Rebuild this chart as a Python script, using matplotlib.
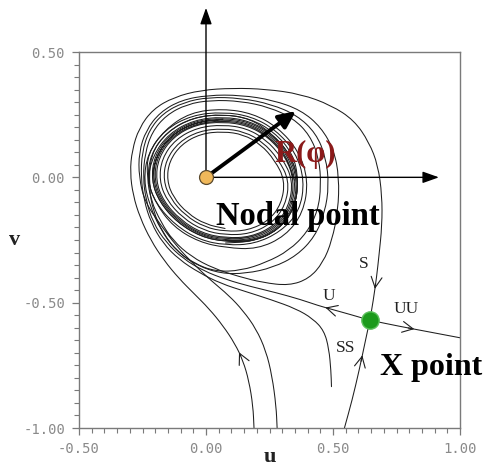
import numpy as np
import matplotlib
matplotlib.use("Agg")
import matplotlib.pyplot as plt
from matplotlib.path import Path
from matplotlib.patches import PathPatch
from matplotlib.ticker import MultipleLocator

# ---------------- data (phase-plane coordinates u, v) ----------------
x_ticks = [-0.5, 0.0, 0.5, 1.0]
x_tick_labels = ["-0.50", "0.00", "0.50", "1.00"]
y_ticks = [-1.0, -0.5, 0.0, 0.5]
y_tick_labels = ["-1.00", "-0.50", "0.00", "0.50"]

nodal_point = (0.0, 0.0)
x_point = (0.645, -0.570)
radius_tip = (0.354, 0.264)
u_axis_tip = (0.917, 0.0)
v_axis_tip = (0.0, 0.676)

# trajectory entering from the bottom, wrapping outside and becoming branch S
traj_outer = [
    (0.189, -1.000), (0.185, -0.912), (0.169, -0.812), (0.146, -0.732),
    (0.114, -0.664), (0.067, -0.592), (0.012, -0.524), (-0.047, -0.464),
    (-0.106, -0.404), (-0.165, -0.332), (-0.217, -0.252), (-0.260, -0.160),
    (-0.287, -0.072), (-0.299, 0.020), (-0.291, 0.108), (-0.264, 0.196),
    (-0.209, 0.272), (-0.126, 0.320), (-0.020, 0.348), (0.106, 0.356),
    (0.236, 0.352), (0.374, 0.332), (0.492, 0.288), (0.583, 0.228),
    (0.642, 0.140), (0.677, 0.048), (0.693, -0.072), (0.693, -0.192),
    (0.681, -0.312), (0.672, -0.395), (0.658, -0.495), (0.645, -0.570),
]

# second trajectory from the bottom: outer pass, then along U and into the cycle
traj_second = [
    (0.280, -1.000), (0.276, -0.912), (0.260, -0.792), (0.236, -0.692),
    (0.197, -0.604), (0.146, -0.532), (0.091, -0.472), (0.020, -0.412),
    (-0.051, -0.344), (-0.118, -0.272), (-0.177, -0.192), (-0.240, -0.100),
    (-0.264, 0.000), (-0.264, 0.100), (-0.236, 0.188), (-0.181, 0.260),
    (-0.098, 0.308), (0.008, 0.328), (0.138, 0.328), (0.264, 0.308),
    (0.374, 0.268), (0.453, 0.200), (0.504, 0.108), (0.524, 0.000),
    (0.520, -0.132), (0.496, -0.252), (0.461, -0.340), (0.406, -0.404),
    (0.327, -0.432), (0.224, -0.420), (0.130, -0.396), (0.031, -0.364),
    (-0.059, -0.316), (-0.130, -0.252), (-0.177, -0.180), (-0.217, -0.092),
    (-0.232, 0.000), (-0.230, 0.094), (-0.163, 0.190), (-0.056, 0.248),
    (0.067, 0.261), (0.179, 0.243), (0.274, 0.190), (0.353, 0.100),
    (0.388, -0.012), (0.369, -0.135), (0.294, -0.217), (0.191, -0.266),
    (0.078, -0.271), (-0.025, -0.250), (-0.122, -0.190), (-0.198, -0.104),
    (-0.231, -0.012), (-0.219, 0.091), (-0.154, 0.182), (-0.052, 0.239),
    (0.067, 0.252), (0.175, 0.234), (0.267, 0.182), (0.342, 0.096),
    (0.365, -0.012), (0.348, -0.126), (0.285, -0.210), (0.187, -0.256),
    (0.077, -0.257), (-0.020, -0.237), (-0.112, -0.181), (-0.183, -0.099),
    (-0.215, -0.012), (-0.204, 0.085), (-0.142, 0.172), (-0.045, 0.225),
    (0.067, 0.237), (0.169, 0.221), (0.256, 0.172), (0.327, 0.090),
    (0.360, -0.012), (0.343, -0.124), (0.281, -0.206), (0.185, -0.252),
    (0.077, -0.252),
]

# unstable branch U leaving the X point and winding onto the cycle
traj_unstable = [
    (0.645, -0.570), (0.571, -0.548), (0.500, -0.528), (0.440, -0.511),
    (0.374, -0.488), (0.276, -0.460), (0.177, -0.436), (0.079, -0.408),
    (-0.012, -0.372), (-0.091, -0.324), (-0.157, -0.260), (-0.209, -0.180),
    (-0.236, -0.092), (-0.248, 0.000), (-0.240, 0.096), (-0.213, 0.180),
    (-0.157, 0.248), (-0.075, 0.292), (0.020, 0.308), (0.138, 0.304),
    (0.248, 0.280), (0.343, 0.236), (0.409, 0.168), (0.445, 0.076),
    (0.453, -0.032), (0.441, -0.132), (0.398, -0.220), (0.327, -0.292),
    (0.236, -0.340), (0.138, -0.372), (0.039, -0.376), (-0.047, -0.344),
    (-0.122, -0.288), (-0.178, -0.210), (-0.222, -0.112), (-0.245, -0.012),
    (-0.230, 0.094), (-0.163, 0.190), (-0.062, 0.259), (0.067, 0.274),
    (0.184, 0.255), (0.284, 0.199), (0.365, 0.105), (0.403, -0.012),
    (0.383, -0.141), (0.313, -0.234), (0.202, -0.287), (0.078, -0.281),
    (-0.028, -0.258), (-0.129, -0.197), (-0.198, -0.104), (-0.231, -0.012),
    (-0.209, 0.087), (-0.146, 0.175), (-0.047, 0.229), (0.067, 0.242),
    (0.171, 0.225), (0.259, 0.175), (0.332, 0.092), (0.365, -0.012),
    (0.348, -0.126), (0.285, -0.210), (0.187, -0.256), (0.077, -0.257),
    (-0.020, -0.237), (-0.112, -0.181), (-0.183, -0.099), (-0.215, -0.012),
    (-0.198, 0.083), (-0.138, 0.168), (-0.043, 0.220), (0.067, 0.232),
    (0.167, 0.216), (0.252, 0.168), (0.322, 0.088), (0.354, -0.012),
    (0.337, -0.122), (0.277, -0.202), (0.182, -0.247), (0.077, -0.252),
    (-0.018, -0.232), (-0.108, -0.177), (-0.178, -0.097), (-0.209, -0.012),
    (-0.198, 0.083), (-0.138, 0.168), (-0.043, 0.220), (0.067, 0.232),
]

# trajectory rising just left of SS and turning along U
traj_lower = [
    (0.494, -0.835), (0.492, -0.772), (0.484, -0.684), (0.465, -0.612),
    (0.421, -0.564), (0.354, -0.524), (0.256, -0.488), (0.157, -0.456),
    (0.059, -0.424), (-0.028, -0.380), (-0.106, -0.328), (-0.169, -0.264),
    (-0.217, -0.180), (-0.244, -0.092), (-0.256, 0.000), (-0.252, 0.100),
    (-0.224, 0.188), (-0.169, 0.256), (-0.087, 0.300), (0.012, 0.320),
    (0.138, 0.316), (0.256, 0.292), (0.358, 0.248), (0.433, 0.176),
    (0.472, 0.080), (0.484, -0.032), (0.468, -0.140), (0.429, -0.236),
    (0.358, -0.312), (0.264, -0.360), (0.157, -0.384), (0.059, -0.384),
    (-0.035, -0.352), (-0.110, -0.300), (-0.169, -0.224), (-0.209, -0.132),
    (-0.224, -0.040), (-0.219, 0.091), (-0.154, 0.182), (-0.052, 0.239),
    (0.067, 0.252), (0.175, 0.234), (0.259, 0.175), (0.332, 0.092),
    (0.365, -0.012), (0.348, -0.126), (0.285, -0.210), (0.187, -0.256),
    (0.077, -0.262),
]

# trajectory spiralling outward from near the nodal point onto the cycle
traj_inner = [
    (0.075, -0.204), (-0.001, -0.188), (-0.073, -0.144), (-0.129, -0.080),
    (-0.154, -0.012), (-0.145, 0.064), (-0.097, 0.132), (-0.021, 0.174),
    (0.067, 0.183), (0.147, 0.171), (0.215, 0.132), (0.271, 0.068),
    (0.311, -0.012), (0.297, -0.106), (0.246, -0.174), (0.165, -0.212),
    (0.076, -0.216), (-0.005, -0.199), (-0.082, -0.152), (-0.141, -0.084),
    (-0.168, -0.012), (-0.158, 0.069), (-0.107, 0.141), (-0.027, 0.185),
    (0.067, 0.195), (0.152, 0.182), (0.224, 0.141), (0.284, 0.073),
    (0.328, -0.012), (0.313, -0.112), (0.258, -0.185), (0.172, -0.226),
    (0.076, -0.230), (-0.010, -0.212), (-0.092, -0.162), (-0.156, -0.089),
    (-0.184, -0.012), (-0.174, 0.075), (-0.120, 0.152), (-0.033, 0.199),
    (0.067, 0.210), (0.158, 0.196), (0.235, 0.152), (0.299, 0.079),
    (0.343, -0.012), (0.326, -0.118), (0.269, -0.194), (0.177, -0.238),
    (0.077, -0.242), (-0.015, -0.223), (-0.101, -0.170), (-0.168, -0.094),
    (-0.198, -0.012), (-0.187, 0.079), (-0.130, 0.161), (-0.039, 0.211),
    (0.067, 0.222), (0.163, 0.207), (0.245, 0.161), (0.312, 0.084),
    (0.348, -0.012), (0.332, -0.120), (0.273, -0.198), (0.180, -0.242),
    (0.077, -0.247), (-0.017, -0.228), (-0.105, -0.174), (-0.173, -0.096),
    (-0.204, -0.012), (-0.193, 0.081), (-0.134, 0.164), (-0.041, 0.215),
    (0.067, 0.227), (0.165, 0.212), (0.248, 0.164), (0.317, 0.086),
    (0.348, -0.012),
]

# stable branch SS (from below into the X point) and unstable branch UU
traj_ss = [(0.545, -1.000), (0.575, -0.890), (0.603, -0.770),
           (0.628, -0.650), (0.645, -0.570)]
traj_uu = [(0.645, -0.570), (0.760, -0.594), (0.880, -0.617), (1.000, -0.640)]

# flow-direction chevrons: (trajectory, segment index)
flow_arrows = [("outer", 3), ("outer", 29), ("unstable", 2), ("ss", 2), ("uu", 1)]

branch_labels = ["S", "U", "UU", "SS"]
branch_label_pos = [(0.622, -0.344), (0.484, -0.472), (0.787, -0.524), (0.551, -0.680)]

# ---------------- styles ----------------
LINE = "#1e1e1e"
SPINE = "#7a7a7a"
TICKTEXT = "#8a8a8a"
SERIF = ["Liberation Serif", "DejaVu Serif"]

fig = plt.figure(figsize=(4.87, 4.66), dpi=100)
ax = fig.add_axes([79 / 487, 1 - 428 / 466, 381 / 487, 376 / 466])
ax.set_xlim(-0.5, 1.0)
ax.set_ylim(-1.0, 0.5)


def smooth_path(points):
    p = np.asarray(points, float)
    verts = [p[0], (p[0] + p[1]) / 2]
    codes = [Path.MOVETO, Path.LINETO]
    for i in range(1, len(p) - 1):
        verts += [p[i], (p[i] + p[i + 1]) / 2]
        codes += [Path.CURVE3, Path.CURVE3]
    verts.append(p[-1])
    codes.append(Path.LINETO)
    return Path(verts, codes)


trajectories = {
    "outer": traj_outer,
    "second": traj_second,
    "unstable": traj_unstable,
    "lower": traj_lower,
    "inner": traj_inner,
    "ss": traj_ss,
    "uu": traj_uu,
}

for pts in trajectories.values():
    ax.add_patch(PathPatch(smooth_path(pts), facecolor="none", edgecolor=LINE,
                           lw=0.75, capstyle="round", joinstyle="round", zorder=2))

for name, i in flow_arrows:
    p = np.asarray(trajectories[name], float)
    tip = (p[i] + p[i + 1]) / 2
    tail = p[i] + 0.3 * (p[i + 1] - p[i])
    ax.annotate("", xy=tip, xytext=tail,
                arrowprops=dict(arrowstyle="->,head_length=0.55,head_width=0.28",
                                lw=0.8, color=LINE, shrinkA=0, shrinkB=0,
                                mutation_scale=14), zorder=3)

# coordinate arrows through the nodal point
for tip in (u_axis_tip, v_axis_tip):
    ax.annotate("", xy=tip, xytext=nodal_point, annotation_clip=False,
                arrowprops=dict(arrowstyle="-|>,head_length=0.9,head_width=0.32",
                                lw=1.0, color="black", shrinkA=0, shrinkB=0,
                                mutation_scale=11), zorder=4)

# radius vector R(phi)
ax.annotate("", xy=radius_tip, xytext=nodal_point,
            arrowprops=dict(arrowstyle="-|>,head_length=0.6,head_width=0.28",
                            lw=2.8, color="black", shrinkA=0, shrinkB=0,
                            mutation_scale=17), zorder=5)

ax.plot(*nodal_point, "o", ms=10, mfc="#f0b85a", mec="#5b4a2e", mew=0.9, zorder=6)
ax.plot(*x_point, "o", ms=12.5, mfc="#1c9a1c", mec="#5cc05c", mew=1.0, zorder=6)

for text, (tu, tv) in zip(branch_labels, branch_label_pos):
    ax.text(tu, tv, text, ha="center", va="center", fontsize=12.5,
            family=SERIF, color="#222222", zorder=7)

ax.text(0.268, 0.060, "R(\u03c6)", ha="left", va="baseline", fontsize=22,
        fontweight="bold", family=SERIF, color="#8b1a1a", zorder=7)
ax.text(0.040, -0.192, "Nodal point", ha="left", va="baseline", fontsize=23.5,
        fontweight="bold", family=SERIF, color="black", zorder=7)
ax.text(0.685, -0.788, "X point", ha="left", va="baseline", fontsize=23,
        fontweight="bold", family=SERIF, color="black", zorder=7,
        clip_on=False)

# axes frame, ticks and labels
for sp in ax.spines.values():
    sp.set_color(SPINE)
    sp.set_linewidth(1.0)

ax.set_xticks(x_ticks)
ax.set_xticklabels(x_tick_labels, family="DejaVu Sans Mono", color=TICKTEXT,
                   fontsize=10)
ax.set_yticks(y_ticks)
ax.set_yticklabels(y_tick_labels, family="DejaVu Sans Mono", color=TICKTEXT,
                   fontsize=10)
ax.xaxis.set_minor_locator(MultipleLocator(0.05))
ax.yaxis.set_minor_locator(MultipleLocator(0.05))
ax.tick_params(which="major", direction="out", length=5, width=0.9,
               color=SPINE, pad=5, top=False, right=False)
ax.tick_params(which="minor", direction="out", length=3.5, width=0.8,
               color=SPINE, top=False, right=False)

ax.set_xlabel("u", family=SERIF, fontsize=16, fontweight="bold", color="#222222",
              va="center", ha="center")
ax.xaxis.set_label_coords(0.5, -0.076)
ax.set_ylabel("v", family=SERIF, fontsize=16, fontweight="bold", color="#222222",
              rotation=0, va="center", ha="center")
ax.yaxis.set_label_coords(-0.168, 0.5)

fig.savefig("out.png", dpi=100)
